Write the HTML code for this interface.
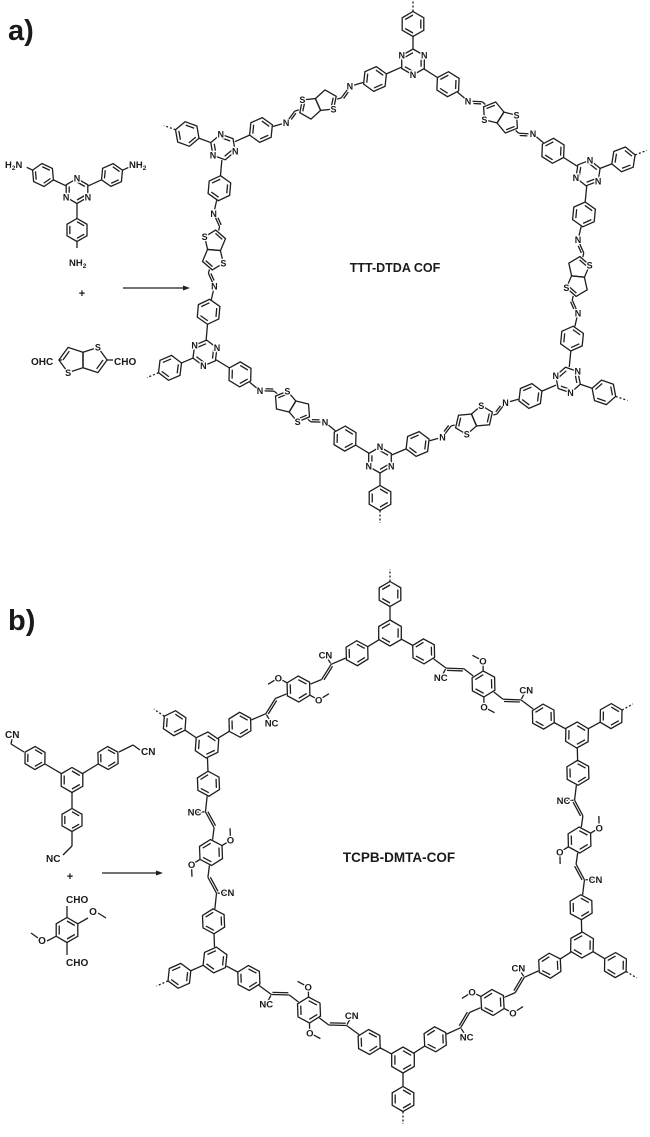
<!DOCTYPE html>
<html><head><meta charset="utf-8"><style>
html,body{margin:0;padding:0;background:#fff;}
svg{display:block;}
text{font-family:"Liberation Sans",Arial,sans-serif;fill:#1a1a1a;}
.t{font-weight:bold;stroke:#fff;stroke-width:2.4;paint-order:stroke;}
</style></head><body>
<svg id="s" width="650" height="1137" viewBox="0 0 650 1137" xmlns="http://www.w3.org/2000/svg">
<rect width="650" height="1137" fill="#fff"/>
<g id="g"></g>
<text x="8" y="40" font-size="29" font-weight="bold">a)</text>
<text x="8" y="630" font-size="29" font-weight="bold">b)</text>
<text x="395" y="272" font-size="12.5" font-weight="bold" text-anchor="middle">TTT-DTDA COF</text>
<text x="399" y="862" font-size="13.5" font-weight="bold" text-anchor="middle">TCPB-DMTA-COF</text>
<text class="t" x="5" y="168" font-size="9.5">H<tspan font-size="6.5" dy="2">2</tspan><tspan dy="-2">N</tspan></text>
<text class="t" x="129" y="168" font-size="9.5">NH<tspan font-size="6.5" dy="2">2</tspan></text>
<text class="t" x="69" y="266" font-size="9.5">NH<tspan font-size="6.5" dy="2">2</tspan></text>
<text x="82" y="297" font-size="11" font-weight="bold" text-anchor="middle">+</text>
<text class="t" x="31" y="365" font-size="10">OHC</text>
<text class="t" x="114" y="365" font-size="10">CHO</text>
<text class="t" x="5" y="738" font-size="10">CN</text>
<text class="t" x="141" y="755" font-size="10">CN</text>
<text class="t" x="46" y="862" font-size="10">NC</text>
<text x="70" y="880" font-size="11" font-weight="bold" text-anchor="middle">+</text>
<text class="t" x="66" y="903" font-size="10">CHO</text>
<text class="t" x="66" y="966" font-size="10">CHO</text>
<text class="t" x="93" y="915" font-size="10" text-anchor="middle">O</text>
<text class="t" x="42" y="944" font-size="10" text-anchor="middle">O</text>
</svg>
<script>
const NS='http://www.w3.org/2000/svg',G=document.getElementById('g');
const D=Math.PI/180,SW=1.3;
function el(t,a){const e=document.createElementNS(NS,t);for(const k in a)e.setAttribute(k,a[k]);G.appendChild(e);return e;}
function L(a,b,c,d,dash){el('line',{x1:a,y1:b,x2:c,y2:d,stroke:'#1e1e1e','stroke-width':SW,'stroke-dasharray':dash||'none'});}
function T(x,y,s,fs){const e=el('text',{x:x,y:y+fs*0.36,'font-size':fs,'text-anchor':'middle','class':'t'});e.textContent=s;}
function poly(p){el('polygon',{points:p.map(q=>q[0].toFixed(1)+','+q[1].toFixed(1)).join(' '),fill:'none',stroke:'#1e1e1e','stroke-width':SW});}
function hexv(cx,cy,r,a){const p=[];for(let k=0;k<6;k++){const t=a+k*60*D;p.push([cx+r*Math.cos(t),cy+r*Math.sin(t)]);}return p;}
function inner(cx,cy,q1,q2,s){L(cx+(q1[0]-cx)*s,cy+(q1[1]-cy)*s,cx+(q2[0]-cx)*s,cy+(q2[1]-cy)*s);}
function ring(cx,cy,r,a,Ns){const p=hexv(cx,cy,r,a);poly(p);
 for(const k of [1,3,5]){inner(cx,cy,p[k],p[(k+1)%6],0.72);}
 if(Ns){for(const k of [1,3,5])T(p[k][0],p[k][1],'N',9);}
 return p;}
function TT(cx,cy,a,k,flip){k=k||1;const u=[Math.cos(a),Math.sin(a)],v=[-u[1],u[0]];
 const R=10.2*k,o=8.3*k;
 const pt=(c,ang)=>[c[0]+R*(Math.cos(ang*D)*u[0]+Math.sin(ang*D)*v[0]),c[1]+R*(Math.cos(ang*D)*u[1]+Math.sin(ang*D)*v[1])];
 const c1=[cx-o*u[0],cy-o*u[1]],c2=[cx+o*u[0],cy+o*u[1]];
 const p1=[36,108,180,252,324].map(x=>pt(c1,x)),p2=[144,216,288,0,72].map(x=>pt(c2,x));
 poly(p1);poly(p2);
 inner(c1[0],c1[1],p1[2],p1[3],0.7);inner(c2[0],c2[1],p2[3],p2[4],0.7);
 const s=flip?-1:1;
 const sa=pt(c1,s>0?108:252),sb=pt(c2,s>0?288:72);
 T(sa[0],sa[1],'S',9);T(sb[0],sb[1],'S',9);
 return 18.5*k;}
function seg(a,b){const dx=b.x-a.x,dy=b.y-a.y,d=Math.hypot(dx,dy),ux=dx/d,uy=dy/d;
 L(a.x+ux*a.r,a.y+uy*a.r,b.x-ux*b.r,b.y-uy*b.r);}
function chain(it){for(let i=0;i<it.length-1;i++)seg(it[i],it[i+1]);}
function dbl(a,b,off){const dx=b.x-a.x,dy=b.y-a.y,d=Math.hypot(dx,dy),ux=dx/d,uy=dy/d,vx=-uy*off,vy=ux*off;
 L(a.x+ux*(a.r+1)+vx,a.y+uy*(a.r+1)+vy,b.x-ux*(b.r+1)+vx,b.y-uy*(b.r+1)+vy);}
const PR=12.5,NR=13;
/* Part a */
const A=[[413,62,-90],[588,173,-21],[568,380,19],[380,460,90],[205,353,157],[223,147,-160]];
A.forEach(n=>{const [x,y,o]=n;ring(x,y,NR,o*D,true);
 const px=x+38*Math.cos(o*D),py=y+38*Math.sin(o*D);ring(px,py,PR,o*D);
 chain([{x:x,y:y,r:NR},{x:px,y:py,r:PR}]);
 L(px+PR*Math.cos(o*D),py+PR*Math.sin(o*D),px+25*Math.cos(o*D),py+25*Math.sin(o*D),'2,2');});
function edgeA(Pa,Pb,i){const ax=Pa[0],ay=Pa[1],bx=Pb[0],by=Pb[1];const dx=bx-ax,dy=by-ay,d=Math.hypot(dx,dy),u=[dx/d,dy/d],v=[-u[1],u[0]],ang=Math.atan2(dy,dx);
 const P=(t,o)=>({x:ax+dx*t+v[0]*o,y:ay+dy*t+v[1]*o});
 const p1=P(0.2,0),n1=P(0.325,3.5),c1=P(0.385,-3.5),tt=P(0.5,0),c2=P(0.615,3.5),n2=P(0.675,-3.5),p2=P(0.8,0);
 ring(p1.x,p1.y,PR,ang);ring(p2.x,p2.y,PR,ang);
 const tr=TT(tt.x,tt.y,ang,1.08,i%2);
 T(n1.x,n1.y,'N',9);T(n2.x,n2.y,'N',9);
 p1.r=PR;p2.r=PR;n1.r=4.5;n2.r=4.5;c1.r=0;c2.r=0;tt.r=tr;
 chain([{x:ax,y:ay,r:NR},p1,n1,c1,tt,c2,n2,p2,{x:bx,y:by,r:NR}]);
 dbl(n1,c1,2.2);dbl(c2,n2,2.2);}
for(let i=0;i<6;i++)edgeA(A[i],A[(i+1)%6],i);
/* Part b */
const B=[[390,633,-90],[577,735,-29],[582,945,31],[403,1060,90],[215,960,156],[207,745,-146]];
B.forEach(n=>{const [x,y,o]=n;ring(x,y,NR,o*D,false);
 const px=x+39*Math.cos(o*D),py=y+39*Math.sin(o*D);ring(px,py,PR,o*D);
 chain([{x:x,y:y,r:NR},{x:px,y:py,r:PR}]);
 L(px+PR*Math.cos(o*D),py+PR*Math.sin(o*D),px+25*Math.cos(o*D),py+25*Math.sin(o*D),'2,2');});
function edgeB(Pa,Pb,i){const ax=Pa[0],ay=Pa[1],bx=Pb[0],by=Pb[1];const dx=bx-ax,dy=by-ay,d=Math.hypot(dx,dy),u=[dx/d,dy/d],v=[-u[1],u[0]],ang=Math.atan2(dy,dx);
 const P=(t,o)=>({x:ax+dx*t+v[0]*o,y:ay+dy*t+v[1]*o});
 const p1=P(0.18,0),c1=P(0.31,4),h1=P(0.385,-4),m=P(0.5,0),h2=P(0.615,4),c2=P(0.69,-4),p2=P(0.82,0);
 ring(p1.x,p1.y,PR,ang);ring(p2.x,p2.y,PR,ang);
 const rp=ring(m.x,m.y,13,ang);
 [1,4].forEach(k=>{const q=rp[k],ox=q[0]-m.x,oy=q[1]-m.y,l=Math.hypot(ox,oy);
  const O={x:q[0]+ox/l*10,y:q[1]+oy/l*10};L(q[0],q[1],q[0]+ox/l*6,q[1]+oy/l*6);T(O.x,O.y,'O',9.5);
  const a2=Math.atan2(oy,ox)-60*D;L(O.x+4.5*Math.cos(a2),O.y+4.5*Math.sin(a2),O.x+12*Math.cos(a2),O.y+12*Math.sin(a2));});
 const cn1=P(0.31,15),cn2=P(0.69,-15);
 L(c1.x+v[0]*1,c1.y+v[1]*1,c1.x+v[0]*8,c1.y+v[1]*8);L(c2.x-v[0]*1,c2.y-v[1]*1,c2.x-v[0]*8,c2.y-v[1]*8);
 T(cn1.x,cn1.y,cn1.x<m.x?'NC':'CN',9.5);T(cn2.x,cn2.y,cn2.x<m.x?'NC':'CN',9.5);
 p1.r=PR;p2.r=PR;m.r=13;c1.r=0;c2.r=0;h1.r=0;h2.r=0;
 chain([{x:ax,y:ay,r:NR},p1,c1,h1,m,h2,c2,p2,{x:bx,y:by,r:NR}]);
 dbl(c1,h1,2.2);dbl(h2,c2,2.2);}
for(let i=0;i<6;i++)edgeB(B[i],B[(i+1)%6],i);
/* Reactant a */
ring(77,191,12.5,90*D,true);
[[43,175],[112,175],[77,230]].forEach(p=>{const a=Math.atan2(p[1]-191,p[0]-77);ring(p[0],p[1],11.5,a);
 chain([{x:77,y:191,r:12.5},{x:p[0],y:p[1],r:11.5}]);
 L(p[0]+11.5*Math.cos(a),p[1]+11.5*Math.sin(a),p[0]+18*Math.cos(a),p[1]+18*Math.sin(a));});
L(123,288,186,288);el('polygon',{points:'190,288 183,285.5 183,290.5',fill:'#1e1e1e'});
const tr=TT(83,360,0,1.3,0);L(83-tr,360,62,360);L(83+tr,360,113,360);
/* Reactant b */
ring(72,780,12.5,90*D,false);
[[35,758],[108,758],[72,820]].forEach(p=>{const a=Math.atan2(p[1]-780,p[0]-72);ring(p[0],p[1],11.5,a);
 chain([{x:72,y:780,r:12.5},{x:p[0],y:p[1],r:11.5}]);});
L(24,752,11,744);L(11,744,12,739);
L(119,752,133,745);L(133,745,140,750);
L(72,831,72,846);L(72,846,63,855);
L(102,873,159,873);el('polygon',{points:'163,873 156,870.5 156,875.5',fill:'#1e1e1e'});
ring(67,930,12.5,90*D,false);
L(67,917.5,67,906);L(67,942.5,67,955);
L(77.8,923.8,88,918);L(98,913,106,918);
L(56.2,936.2,47,941);L(38,938,31,933);
</script>
</body></html>
